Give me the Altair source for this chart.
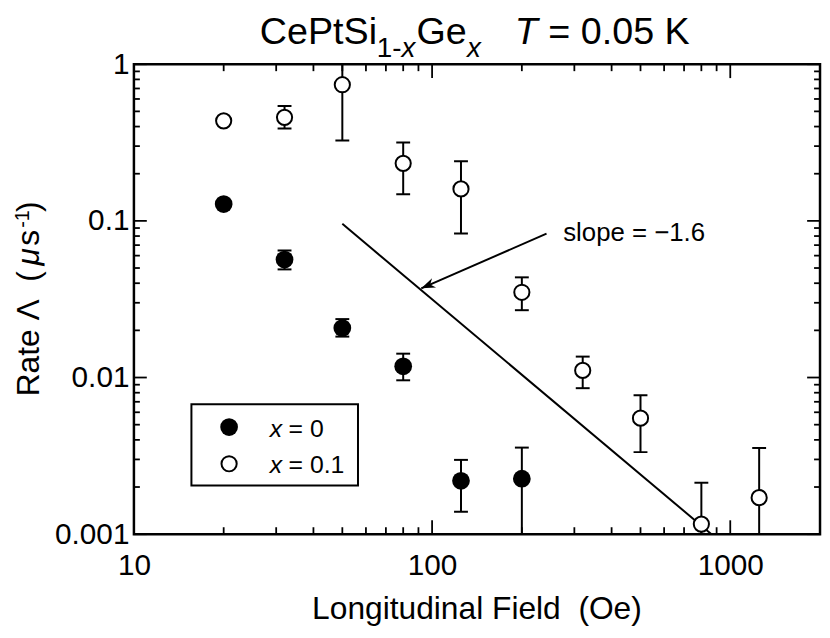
import altair as alt
import pandas as pd

F = "Liberation Sans"

# x = 0 sample
field0 = [20, 32, 50, 80, 125, 200]
rate0 = [0.128, 0.0566, 0.0207, 0.0118, 0.00219, 0.00226]
hi0 = [0.128, 0.0646, 0.0236, 0.0142, 0.00298, 0.00357]
lo0 = [0.128, 0.049, 0.01825, 0.0096, 0.00139, 0.0008]

# x = 0.1 sample
field1 = [20, 32, 50, 80, 125, 200, 320, 500, 800, 1250]
rate1 = [0.435, 0.458, 0.74, 0.233, 0.16, 0.035, 0.0111, 0.0055, 0.00116, 0.00171]
hi1 = [0.435, 0.542, 1.2, 0.316, 0.24, 0.0436, 0.0136, 0.0077, 0.00213, 0.00355]
lo1 = [0.435, 0.389, 0.326, 0.148, 0.083, 0.0269, 0.00855, 0.00334, 0.0008, 0.0008]

# power-law guide line (slope = -1.6)
slope_x = [50, 865]
slope_y = [0.0957, 0.001]

# annotation arrow (from label to line)
arrow_x = [242, 92]
arrow_y = [0.0828, 0.0371]

# ticks
x_major = [10, 100, 1000]
x_minor = [20, 30, 40, 50, 60, 70, 80, 90, 200, 300, 400, 500, 600, 700, 800, 900]
y_major = [0.001, 0.01, 0.1, 1]
y_minor = [m * d for d in (0.001, 0.01, 0.1) for m in (2, 3, 4, 5, 6, 7, 8, 9)]

W, H = 692, 474

xs = alt.Scale(type="log", domain=[10, 2000], nice=False)
ys = alt.Scale(type="log", domain=[0.001, 1], nice=False)
xaxis = alt.Axis(values=x_major, format="~g", title=None, ticks=False, domain=False,
                 grid=False, labelFontSize=30, labelPadding=17, labelFlush=False,
                 labelOverlap=False, labelFont=F, labelColor="black")
yaxis = alt.Axis(values=y_major, format="~g", title=None, ticks=False, domain=False,
                 grid=False, labelFontSize=30, labelPadding=5, labelFlush=False,
                 labelOverlap=False, labelFont=F, labelColor="black")

def X(f):
    return alt.X(f, type="quantitative", scale=xs, axis=xaxis)

def Y(f):
    return alt.Y(f, type="quantitative", scale=ys, axis=yaxis)

d0 = pd.DataFrame({"f": field0, "r": rate0, "hi": hi0, "lo": lo0})
d1 = pd.DataFrame({"f": field1, "r": rate1, "hi": hi1, "lo": lo1})

layers = []

# inward ticks
def xticks(vals, length):
    d = pd.DataFrame({"v": vals})
    b = alt.Chart(d).mark_rule(color="black", strokeWidth=1.8).encode(
        x=X("v"), y=alt.value(H), y2=alt.value(H - length))
    t = alt.Chart(d).mark_rule(color="black", strokeWidth=1.8).encode(
        x=X("v"), y=alt.value(0), y2=alt.value(length))
    return [b, t]

def yticks(vals, length):
    d = pd.DataFrame({"v": vals})
    l = alt.Chart(d).mark_rule(color="black", strokeWidth=1.8).encode(
        y=Y("v"), x=alt.value(0), x2=alt.value(length))
    r = alt.Chart(d).mark_rule(color="black", strokeWidth=1.8).encode(
        y=Y("v"), x=alt.value(W), x2=alt.value(W - length))
    return [l, r]

layers += xticks(x_major, 14) + xticks(x_minor, 7)
layers += yticks(y_major, 13) + yticks(y_minor, 6)

# slope line
sl = pd.DataFrame({"x": slope_x, "y": slope_y})
layers.append(alt.Chart(sl).mark_line(color="black", strokeWidth=2, clip=True).encode(
    x=X("x"), y=Y("y")))

# arrow
ar = pd.DataFrame({"x": [arrow_x[0]], "y": [arrow_y[0]], "x2": [arrow_x[1]], "y2": [arrow_y[1]]})
layers.append(alt.Chart(ar).mark_rule(color="black", strokeWidth=2).encode(
    x=X("x"), y=Y("y"), x2="x2", y2="y2"))
tip = pd.DataFrame({"x": [arrow_x[1]], "y": [arrow_y[1]]})
layers.append(alt.Chart(tip).mark_point(
    shape="M0,0L-1,-0.36L-0.7,0L-1,0.36Z", filled=True, color="black", size=784,
    angle=156.6, opacity=1).encode(x=X("x"), y=Y("y")))

# error bars
for d in (d0, d1):
    layers.append(alt.Chart(d).mark_rule(color="black", strokeWidth=2, clip=True).encode(
        x=X("f"), y=Y("lo"), y2="hi"))
    for col in ("lo", "hi"):
        layers.append(alt.Chart(d).mark_tick(color="black", orient="horizontal", size=14,
                                             thickness=2, clip=True, opacity=1).encode(
            x=X("f"), y=Y(col)))

# points
layers.append(alt.Chart(d0).mark_point(shape="circle", filled=True, color="black",
                                       size=320, opacity=1).encode(x=X("f"), y=Y("r")))
layers.append(alt.Chart(d1).mark_point(shape="circle", filled=True, fill="white",
                                       stroke="black", strokeWidth=2, size=235,
                                       opacity=1).encode(x=X("f"), y=Y("r")))

def txt(s, x, y, size, style="normal", angle=0, align="left", baseline="alphabetic"):
    return alt.Chart(pd.DataFrame({"t": [s]})).mark_text(
        font=F, fontSize=size, fontStyle=style, align=align, baseline=baseline,
        angle=angle, color="black").encode(text="t:N", x=alt.value(x), y=alt.value(y))

# slope label
layers.append(txt("slope = \u22121.6", 433, 178, 26))

# legend
lb = pd.DataFrame({"a": [0]})
layers.append(alt.Chart(lb).mark_rect(fill="white", stroke="black", strokeWidth=2).encode(
    x=alt.value(58), x2=alt.value(226), y=alt.value(343), y2=alt.value(425)))
layers.append(alt.Chart(lb).mark_point(shape="circle", filled=True, color="black", size=320,
                                       opacity=1).encode(x=alt.value(96), y=alt.value(366)))
layers.append(alt.Chart(lb).mark_point(shape="circle", filled=True, fill="white", stroke="black",
                                       strokeWidth=2, size=235, opacity=1).encode(
    x=alt.value(96), y=alt.value(403)))
layers.append(txt("x", 137, 376, 25, "italic"))
layers.append(txt("= 0", 156, 376, 25))
layers.append(txt("x", 137, 412, 25, "italic"))
layers.append(txt("= 0.1", 156, 412, 25))

# title (pieces, with subscripts)
TB, SB = -20, -7
layers.append(txt("CePtSi", 127, TB, 38))
layers.append(txt("1-", 245, SB, 28))
layers.append(txt("x", 270, SB, 28, "italic"))
layers.append(txt("Ge", 285, TB, 38))
layers.append(txt("x", 336, SB, 28, "italic"))
layers.append(txt("T", 384, TB, 38, "italic"))
layers.append(txt("= 0.05 K", 418, TB, 38))

# x-axis title
layers.append(txt("Longitudinal Field\u00a0 (Oe)", W / 2, 560, 32, align="center"))

# y-axis title (rotated)
YB = -96
layers.append(txt("Rate \u039b\u00a0 (", YB, 335, 32, angle=270))
layers.append(txt("\u03bc", YB, 203, 32, "italic", angle=270))
layers.append(txt("s", YB, 183, 32, angle=270))
layers.append(txt("-1", YB - 10, 165, 20, angle=270))
layers.append(txt(")", YB, 149, 32, angle=270))

chart = alt.layer(*layers).properties(
    width=W, height=H,
    autosize=alt.AutoSizeParams(type="none"),
    padding={"left": 127, "top": 54, "right": 2, "bottom": 100},
).configure_view(stroke="black", strokeWidth=2.5)

chart.save("out.html", embed_options={"renderer": "svg", "actions": False})
